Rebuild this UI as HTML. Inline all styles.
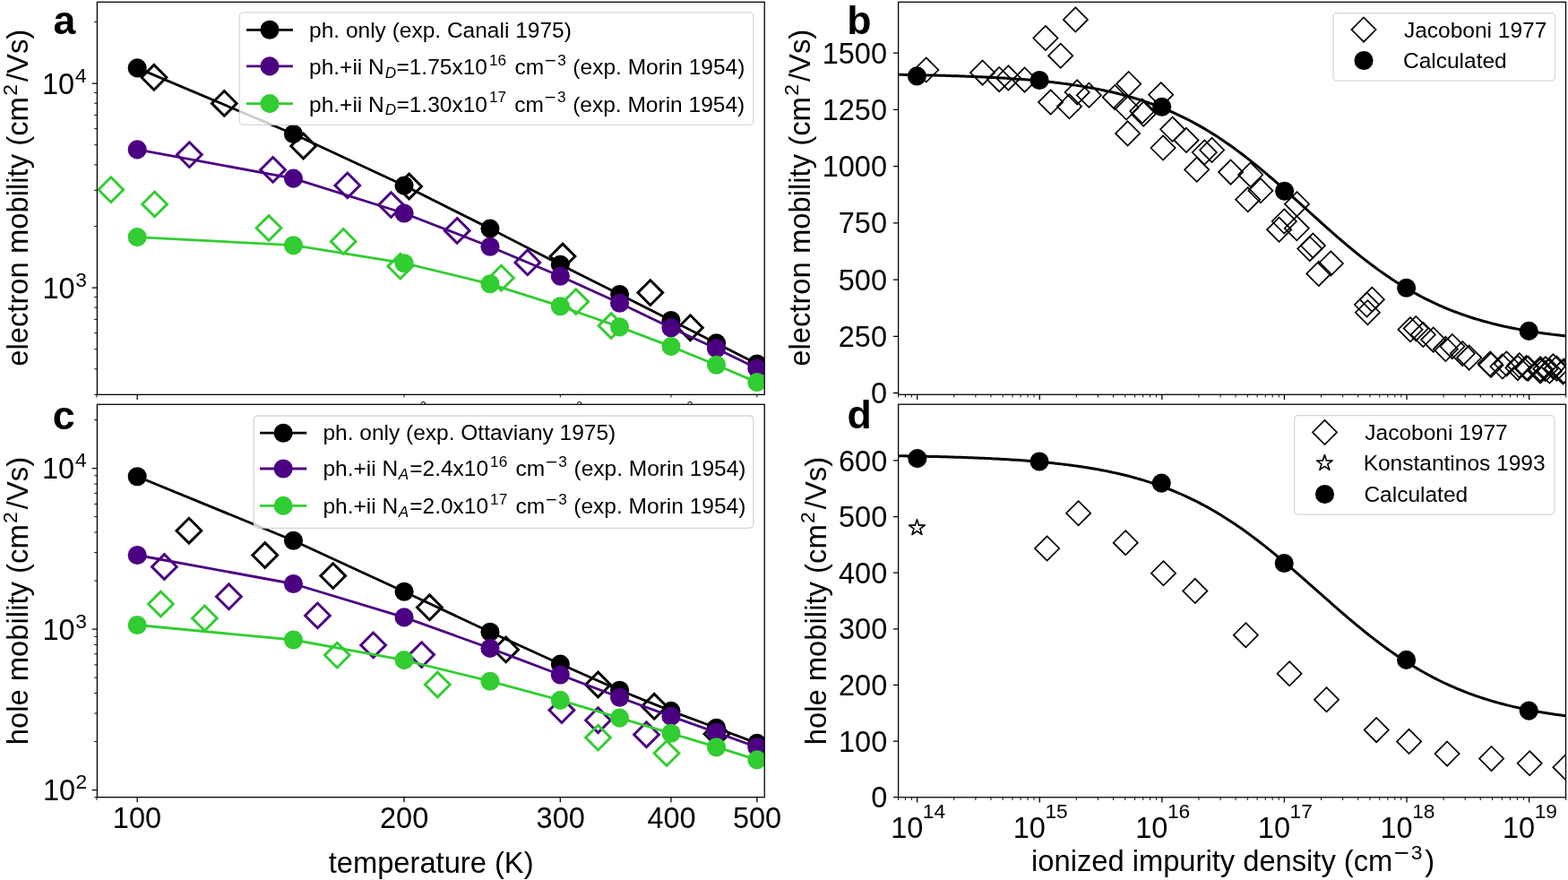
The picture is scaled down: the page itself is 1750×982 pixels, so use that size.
<!DOCTYPE html><html><head><meta charset="utf-8"><title>Carrier mobility figure</title><style>html,body{margin:0;padding:0;background:#fff;overflow:hidden}svg{display:block}text{font-family:"Liberation Sans",Arial,sans-serif;fill:#000}</style></head><body>
<svg width="1750" height="982" viewBox="0 0 1750 982">
<rect width="1750" height="982" fill="#fff"/>
<defs>
<clipPath id="ca"><rect x="108.4" y="2.3" width="744.85" height="438.05"/></clipPath>
<clipPath id="cb"><rect x="1002.6" y="2.3" width="744.95" height="438"/></clipPath>
<clipPath id="cc"><rect x="108.4" y="451.3" width="744.85" height="438.35"/></clipPath>
<clipPath id="cd"><rect x="1002.6" y="451.2" width="744.95" height="438.55"/></clipPath>
</defs>
<rect x="108.4" y="2.3" width="744.85" height="438.05" fill="#fff"/>
<g clip-path="url(#ca)">
<path d="M171.9 72.4L185.8 86.3L171.9 100.2L158 86.3Z" fill="none" stroke="#000000" stroke-width="2.9" stroke-linejoin="miter"/>
<path d="M250.3 101.5L264.2 115.4L250.3 129.3L236.4 115.4Z" fill="none" stroke="#000000" stroke-width="2.9" stroke-linejoin="miter"/>
<path d="M338.6 149.1L352.5 163L338.6 176.9L324.7 163Z" fill="none" stroke="#000000" stroke-width="2.9" stroke-linejoin="miter"/>
<path d="M456.6 194.1L470.5 208L456.6 221.9L442.7 208Z" fill="none" stroke="#000000" stroke-width="2.9" stroke-linejoin="miter"/>
<path d="M628 272.1L641.9 286L628 299.9L614.1 286Z" fill="none" stroke="#000000" stroke-width="2.9" stroke-linejoin="miter"/>
<path d="M725.8 312.7L739.7 326.6L725.8 340.5L711.9 326.6Z" fill="none" stroke="#000000" stroke-width="2.9" stroke-linejoin="miter"/>
<path d="M770.4 351.8L784.3 365.7L770.4 379.6L756.5 365.7Z" fill="none" stroke="#000000" stroke-width="2.9" stroke-linejoin="miter"/>
<path d="M153.2 75.9L327.44 149.5L451.07 207.1L546.96 255.1L625.31 295.2L691.56 328.5L748.94 357.5L799.55 382.9L844.83 406" fill="none" stroke="#000000" stroke-width="2.8" stroke-linejoin="round" stroke-linecap="butt"/>
<circle cx="153.2" cy="75.9" r="10.55" fill="#000000"/>
<circle cx="327.44" cy="149.5" r="10.55" fill="#000000"/>
<circle cx="451.07" cy="207.1" r="10.55" fill="#000000"/>
<circle cx="546.96" cy="255.1" r="10.55" fill="#000000"/>
<circle cx="625.31" cy="295.2" r="10.55" fill="#000000"/>
<circle cx="691.56" cy="328.5" r="10.55" fill="#000000"/>
<circle cx="748.94" cy="357.5" r="10.55" fill="#000000"/>
<circle cx="799.55" cy="382.9" r="10.55" fill="#000000"/>
<circle cx="844.83" cy="406" r="10.55" fill="#000000"/>
<path d="M211.4 158.7L225.3 172.6L211.4 186.5L197.5 172.6Z" fill="none" stroke="#4b0082" stroke-width="2.9" stroke-linejoin="miter"/>
<path d="M304.6 175.5L318.5 189.4L304.6 203.3L290.7 189.4Z" fill="none" stroke="#4b0082" stroke-width="2.9" stroke-linejoin="miter"/>
<path d="M387.8 193L401.7 206.9L387.8 220.8L373.9 206.9Z" fill="none" stroke="#4b0082" stroke-width="2.9" stroke-linejoin="miter"/>
<path d="M436.5 214.7L450.4 228.6L436.5 242.5L422.6 228.6Z" fill="none" stroke="#4b0082" stroke-width="2.9" stroke-linejoin="miter"/>
<path d="M510.2 243.5L524.1 257.4L510.2 271.3L496.3 257.4Z" fill="none" stroke="#4b0082" stroke-width="2.9" stroke-linejoin="miter"/>
<path d="M588.8 279L602.7 292.9L588.8 306.8L574.9 292.9Z" fill="none" stroke="#4b0082" stroke-width="2.9" stroke-linejoin="miter"/>
<path d="M153.2 166.9L327.44 199.1L451.07 238L546.96 275.2L625.31 308.3L691.56 338.3L748.94 365.7L799.55 388.9L844.83 411.1" fill="none" stroke="#4b0082" stroke-width="2.8" stroke-linejoin="round" stroke-linecap="butt"/>
<circle cx="153.2" cy="166.9" r="10.55" fill="#4b0082"/>
<circle cx="327.44" cy="199.1" r="10.55" fill="#4b0082"/>
<circle cx="451.07" cy="238" r="10.55" fill="#4b0082"/>
<circle cx="546.96" cy="275.2" r="10.55" fill="#4b0082"/>
<circle cx="625.31" cy="308.3" r="10.55" fill="#4b0082"/>
<circle cx="691.56" cy="338.3" r="10.55" fill="#4b0082"/>
<circle cx="748.94" cy="365.7" r="10.55" fill="#4b0082"/>
<circle cx="799.55" cy="388.9" r="10.55" fill="#4b0082"/>
<circle cx="844.83" cy="411.1" r="10.55" fill="#4b0082"/>
<path d="M123.8 197.8L137.7 211.7L123.8 225.6L109.9 211.7Z" fill="none" stroke="#32cd32" stroke-width="2.9" stroke-linejoin="miter"/>
<path d="M172.6 214L186.5 227.9L172.6 241.8L158.7 227.9Z" fill="none" stroke="#32cd32" stroke-width="2.9" stroke-linejoin="miter"/>
<path d="M300 240.6L313.9 254.5L300 268.4L286.1 254.5Z" fill="none" stroke="#32cd32" stroke-width="2.9" stroke-linejoin="miter"/>
<path d="M383.2 255.5L397.1 269.4L383.2 283.3L369.3 269.4Z" fill="none" stroke="#32cd32" stroke-width="2.9" stroke-linejoin="miter"/>
<path d="M446.8 283.2L460.7 297.1L446.8 311L432.9 297.1Z" fill="none" stroke="#32cd32" stroke-width="2.9" stroke-linejoin="miter"/>
<path d="M559.4 296.3L573.3 310.2L559.4 324.1L545.5 310.2Z" fill="none" stroke="#32cd32" stroke-width="2.9" stroke-linejoin="miter"/>
<path d="M642.8 322.7L656.7 336.6L642.8 350.5L628.9 336.6Z" fill="none" stroke="#32cd32" stroke-width="2.9" stroke-linejoin="miter"/>
<path d="M682.1 349.6L696 363.5L682.1 377.4L668.2 363.5Z" fill="none" stroke="#32cd32" stroke-width="2.9" stroke-linejoin="miter"/>
<path d="M153.2 264.6L327.44 273.7L451.07 293.7L546.96 316.8L625.31 341.7L691.56 364.9L748.94 386.6L799.55 407.2L844.83 426.6" fill="none" stroke="#32cd32" stroke-width="2.8" stroke-linejoin="round" stroke-linecap="butt"/>
<circle cx="153.2" cy="264.6" r="10.55" fill="#32cd32"/>
<circle cx="327.44" cy="273.7" r="10.55" fill="#32cd32"/>
<circle cx="451.07" cy="293.7" r="10.55" fill="#32cd32"/>
<circle cx="546.96" cy="316.8" r="10.55" fill="#32cd32"/>
<circle cx="625.31" cy="341.7" r="10.55" fill="#32cd32"/>
<circle cx="691.56" cy="364.9" r="10.55" fill="#32cd32"/>
<circle cx="748.94" cy="386.6" r="10.55" fill="#32cd32"/>
<circle cx="799.55" cy="407.2" r="10.55" fill="#32cd32"/>
<circle cx="844.83" cy="426.6" r="10.55" fill="#32cd32"/>
</g>
<rect x="1002.6" y="2.3" width="744.95" height="438" fill="#fff"/>
<g clip-path="url(#cb)">
<path d="M1033.7 64.4L1047.3 78L1033.7 91.6L1020.1 78Z" fill="none" stroke="#000000" stroke-width="1.7" stroke-linejoin="miter"/>
<path d="M1096.6 67.5L1110.2 81.1L1096.6 94.7L1083 81.1Z" fill="none" stroke="#000000" stroke-width="1.7" stroke-linejoin="miter"/>
<path d="M1115.2 75L1128.8 88.6L1115.2 102.2L1101.6 88.6Z" fill="none" stroke="#000000" stroke-width="1.7" stroke-linejoin="miter"/>
<path d="M1125.4 73.3L1139 86.9L1125.4 100.5L1111.8 86.9Z" fill="none" stroke="#000000" stroke-width="1.7" stroke-linejoin="miter"/>
<path d="M1143.6 75.5L1157.2 89.1L1143.6 102.7L1130 89.1Z" fill="none" stroke="#000000" stroke-width="1.7" stroke-linejoin="miter"/>
<path d="M1166.9 28.9L1180.5 42.5L1166.9 56.1L1153.3 42.5Z" fill="none" stroke="#000000" stroke-width="1.7" stroke-linejoin="miter"/>
<path d="M1200.4 8.3L1214 21.9L1200.4 35.5L1186.8 21.9Z" fill="none" stroke="#000000" stroke-width="1.7" stroke-linejoin="miter"/>
<path d="M1183.7 48.6L1197.3 62.2L1183.7 75.8L1170.1 62.2Z" fill="none" stroke="#000000" stroke-width="1.7" stroke-linejoin="miter"/>
<path d="M1172.6 100.4L1186.2 114L1172.6 127.6L1159 114Z" fill="none" stroke="#000000" stroke-width="1.7" stroke-linejoin="miter"/>
<path d="M1193.5 105.2L1207.1 118.8L1193.5 132.4L1179.9 118.8Z" fill="none" stroke="#000000" stroke-width="1.7" stroke-linejoin="miter"/>
<path d="M1202.2 89.3L1215.8 102.9L1202.2 116.5L1188.6 102.9Z" fill="none" stroke="#000000" stroke-width="1.7" stroke-linejoin="miter"/>
<path d="M1215.4 92.7L1229 106.3L1215.4 119.9L1201.8 106.3Z" fill="none" stroke="#000000" stroke-width="1.7" stroke-linejoin="miter"/>
<path d="M1259.7 80L1273.3 93.6L1259.7 107.2L1246.1 93.6Z" fill="none" stroke="#000000" stroke-width="1.7" stroke-linejoin="miter"/>
<path d="M1244.3 95L1257.9 108.6L1244.3 122.2L1230.7 108.6Z" fill="none" stroke="#000000" stroke-width="1.7" stroke-linejoin="miter"/>
<path d="M1257.1 106.4L1270.7 120L1257.1 133.6L1243.5 120Z" fill="none" stroke="#000000" stroke-width="1.7" stroke-linejoin="miter"/>
<path d="M1274.8 110.4L1288.4 124L1274.8 137.6L1261.2 124Z" fill="none" stroke="#000000" stroke-width="1.7" stroke-linejoin="miter"/>
<path d="M1276.2 113.6L1289.8 127.2L1276.2 140.8L1262.6 127.2Z" fill="none" stroke="#000000" stroke-width="1.7" stroke-linejoin="miter"/>
<path d="M1258.6 135.3L1272.2 148.9L1258.6 162.5L1245 148.9Z" fill="none" stroke="#000000" stroke-width="1.7" stroke-linejoin="miter"/>
<path d="M1295.7 92.1L1309.3 105.7L1295.7 119.3L1282.1 105.7Z" fill="none" stroke="#000000" stroke-width="1.7" stroke-linejoin="miter"/>
<path d="M1308.6 130.7L1322.2 144.3L1308.6 157.9L1295 144.3Z" fill="none" stroke="#000000" stroke-width="1.7" stroke-linejoin="miter"/>
<path d="M1324 142.8L1337.6 156.4L1324 170L1310.4 156.4Z" fill="none" stroke="#000000" stroke-width="1.7" stroke-linejoin="miter"/>
<path d="M1298.1 151.4L1311.7 165L1298.1 178.6L1284.5 165Z" fill="none" stroke="#000000" stroke-width="1.7" stroke-linejoin="miter"/>
<path d="M1344.3 156.4L1357.9 170L1344.3 183.6L1330.7 170Z" fill="none" stroke="#000000" stroke-width="1.7" stroke-linejoin="miter"/>
<path d="M1352.6 153.8L1366.2 167.4L1352.6 181L1339 167.4Z" fill="none" stroke="#000000" stroke-width="1.7" stroke-linejoin="miter"/>
<path d="M1335.7 175.7L1349.3 189.3L1335.7 202.9L1322.1 189.3Z" fill="none" stroke="#000000" stroke-width="1.7" stroke-linejoin="miter"/>
<path d="M1373.6 178.5L1387.2 192.1L1373.6 205.7L1360 192.1Z" fill="none" stroke="#000000" stroke-width="1.7" stroke-linejoin="miter"/>
<path d="M1395.7 181.4L1409.3 195L1395.7 208.6L1382.1 195Z" fill="none" stroke="#000000" stroke-width="1.7" stroke-linejoin="miter"/>
<path d="M1406.9 199.2L1420.5 212.8L1406.9 226.4L1393.3 212.8Z" fill="none" stroke="#000000" stroke-width="1.7" stroke-linejoin="miter"/>
<path d="M1392.7 209.1L1406.3 222.7L1392.7 236.3L1379.1 222.7Z" fill="none" stroke="#000000" stroke-width="1.7" stroke-linejoin="miter"/>
<path d="M1447.5 214.1L1461.1 227.7L1447.5 241.3L1433.9 227.7Z" fill="none" stroke="#000000" stroke-width="1.7" stroke-linejoin="miter"/>
<path d="M1433.3 233.4L1446.9 247L1433.3 260.6L1419.7 247Z" fill="none" stroke="#000000" stroke-width="1.7" stroke-linejoin="miter"/>
<path d="M1427.6 242.6L1441.2 256.2L1427.6 269.8L1414 256.2Z" fill="none" stroke="#000000" stroke-width="1.7" stroke-linejoin="miter"/>
<path d="M1447.3 241.2L1460.9 254.8L1447.3 268.4L1433.7 254.8Z" fill="none" stroke="#000000" stroke-width="1.7" stroke-linejoin="miter"/>
<path d="M1461.8 264L1475.4 277.6L1461.8 291.2L1448.2 277.6Z" fill="none" stroke="#000000" stroke-width="1.7" stroke-linejoin="miter"/>
<path d="M1465.4 260.5L1479 274.1L1465.4 287.7L1451.8 274.1Z" fill="none" stroke="#000000" stroke-width="1.7" stroke-linejoin="miter"/>
<path d="M1485.3 280.4L1498.9 294L1485.3 307.6L1471.7 294Z" fill="none" stroke="#000000" stroke-width="1.7" stroke-linejoin="miter"/>
<path d="M1471.8 291.8L1485.4 305.4L1471.8 319L1458.2 305.4Z" fill="none" stroke="#000000" stroke-width="1.7" stroke-linejoin="miter"/>
<path d="M1531.3 320.6L1544.9 334.2L1531.3 347.8L1517.7 334.2Z" fill="none" stroke="#000000" stroke-width="1.7" stroke-linejoin="miter"/>
<path d="M1525.5 326.4L1539.1 340L1525.5 353.6L1511.9 340Z" fill="none" stroke="#000000" stroke-width="1.7" stroke-linejoin="miter"/>
<path d="M1526.4 335.1L1540 348.7L1526.4 362.3L1512.8 348.7Z" fill="none" stroke="#000000" stroke-width="1.7" stroke-linejoin="miter"/>
<path d="M1574 354.1L1587.6 367.7L1574 381.3L1560.4 367.7Z" fill="none" stroke="#000000" stroke-width="1.7" stroke-linejoin="miter"/>
<path d="M1580.3 353L1593.9 366.6L1580.3 380.2L1566.7 366.6Z" fill="none" stroke="#000000" stroke-width="1.7" stroke-linejoin="miter"/>
<path d="M1588.3 359.8L1601.9 373.4L1588.3 387L1574.7 373.4Z" fill="none" stroke="#000000" stroke-width="1.7" stroke-linejoin="miter"/>
<path d="M1599.7 365.5L1613.3 379.1L1599.7 392.7L1586.1 379.1Z" fill="none" stroke="#000000" stroke-width="1.7" stroke-linejoin="miter"/>
<path d="M1613.4 375.8L1627 389.4L1613.4 403L1599.8 389.4Z" fill="none" stroke="#000000" stroke-width="1.7" stroke-linejoin="miter"/>
<path d="M1620.9 373L1634.5 386.6L1620.9 400.2L1607.3 386.6Z" fill="none" stroke="#000000" stroke-width="1.7" stroke-linejoin="miter"/>
<path d="M1632.3 381L1645.9 394.6L1632.3 408.2L1618.7 394.6Z" fill="none" stroke="#000000" stroke-width="1.7" stroke-linejoin="miter"/>
<path d="M1639.7 385.5L1653.3 399.1L1639.7 412.7L1626.1 399.1Z" fill="none" stroke="#000000" stroke-width="1.7" stroke-linejoin="miter"/>
<path d="M1663.1 392.4L1676.7 406L1663.1 419.6L1649.5 406Z" fill="none" stroke="#000000" stroke-width="1.7" stroke-linejoin="miter"/>
<path d="M1664 393.9L1677.6 407.5L1664 421.1L1650.4 407.5Z" fill="none" stroke="#000000" stroke-width="1.7" stroke-linejoin="miter"/>
<path d="M1676.9 395.3L1690.5 408.9L1676.9 422.5L1663.3 408.9Z" fill="none" stroke="#000000" stroke-width="1.7" stroke-linejoin="miter"/>
<path d="M1681.4 392.4L1695 406L1681.4 419.6L1667.8 406Z" fill="none" stroke="#000000" stroke-width="1.7" stroke-linejoin="miter"/>
<path d="M1694 397L1707.6 410.6L1694 424.2L1680.4 410.6Z" fill="none" stroke="#000000" stroke-width="1.7" stroke-linejoin="miter"/>
<path d="M1695.7 394.1L1709.3 407.7L1695.7 421.3L1682.1 407.7Z" fill="none" stroke="#000000" stroke-width="1.7" stroke-linejoin="miter"/>
<path d="M1703.7 397L1717.3 410.6L1703.7 424.2L1690.1 410.6Z" fill="none" stroke="#000000" stroke-width="1.7" stroke-linejoin="miter"/>
<path d="M1705.4 397.5L1719 411.1L1705.4 424.7L1691.8 411.1Z" fill="none" stroke="#000000" stroke-width="1.7" stroke-linejoin="miter"/>
<path d="M1719.1 398.1L1732.7 411.7L1719.1 425.3L1705.5 411.7Z" fill="none" stroke="#000000" stroke-width="1.7" stroke-linejoin="miter"/>
<path d="M1719.1 400.4L1732.7 414L1719.1 427.6L1705.5 414Z" fill="none" stroke="#000000" stroke-width="1.7" stroke-linejoin="miter"/>
<path d="M1724.9 398.1L1738.5 411.7L1724.9 425.3L1711.3 411.7Z" fill="none" stroke="#000000" stroke-width="1.7" stroke-linejoin="miter"/>
<path d="M1729.4 400.4L1743 414L1729.4 427.6L1715.8 414Z" fill="none" stroke="#000000" stroke-width="1.7" stroke-linejoin="miter"/>
<path d="M1733.4 395.3L1747 408.9L1733.4 422.5L1719.8 408.9Z" fill="none" stroke="#000000" stroke-width="1.7" stroke-linejoin="miter"/>
<path d="M1737.4 397.5L1751 411.1L1737.4 424.7L1723.8 411.1Z" fill="none" stroke="#000000" stroke-width="1.7" stroke-linejoin="miter"/>
<path d="M1744.3 401.4L1757.9 415L1744.3 428.6L1730.7 415Z" fill="none" stroke="#000000" stroke-width="1.7" stroke-linejoin="miter"/>
<path d="M1745.4 400.4L1759 414L1745.4 427.6L1731.8 414Z" fill="none" stroke="#000000" stroke-width="1.7" stroke-linejoin="miter"/>
<path d="M1000.6 83.26L1003.72 83.31L1006.84 83.36L1009.96 83.41L1013.08 83.46L1016.2 83.51L1019.32 83.57L1022.44 83.63L1025.57 83.69L1028.69 83.75L1031.81 83.82L1034.93 83.89L1038.05 83.96L1041.17 84.03L1044.29 84.11L1047.41 84.19L1050.53 84.27L1053.65 84.36L1056.77 84.44L1059.89 84.54L1063.01 84.63L1066.13 84.73L1069.25 84.83L1072.37 84.94L1075.5 85.05L1078.62 85.16L1081.74 85.28L1084.86 85.41L1087.98 85.53L1091.1 85.67L1094.22 85.8L1097.34 85.95L1100.46 86.1L1103.58 86.25L1106.7 86.41L1109.82 86.57L1112.94 86.74L1116.06 86.92L1119.18 87.11L1122.3 87.3L1125.42 87.5L1128.55 87.7L1131.67 87.91L1134.79 88.13L1137.91 88.36L1141.03 88.6L1144.15 88.85L1147.27 89.1L1150.39 89.36L1153.51 89.64L1156.63 89.92L1159.75 90.22L1162.87 90.52L1165.99 90.84L1169.11 91.16L1172.23 91.5L1175.36 91.85L1178.48 92.21L1181.6 92.59L1184.72 92.98L1187.84 93.38L1190.96 93.8L1194.08 94.23L1197.2 94.68L1200.32 95.14L1203.44 95.62L1206.56 96.12L1209.68 96.63L1212.8 97.16L1215.92 97.71L1219.04 98.28L1222.16 98.87L1225.29 99.47L1228.41 100.1L1231.53 100.75L1234.65 101.42L1237.77 102.11L1240.89 102.82L1244.01 103.56L1247.13 104.33L1250.25 105.11L1253.37 105.93L1256.49 106.77L1259.61 107.63L1262.73 108.52L1265.85 109.45L1268.97 110.4L1272.09 111.38L1275.21 112.38L1278.34 113.42L1281.46 114.5L1284.58 115.6L1287.7 116.74L1290.82 117.91L1293.94 119.11L1297.06 120.35L1300.18 121.62L1303.3 122.93L1306.42 124.27L1309.54 125.66L1312.66 127.07L1315.78 128.53L1318.9 130.03L1322.02 131.56L1325.14 133.13L1328.27 134.75L1331.39 136.4L1334.51 138.09L1337.63 139.83L1340.75 141.6L1343.87 143.42L1346.99 145.27L1350.11 147.17L1353.23 149.1L1356.35 151.08L1359.47 153.1L1362.59 155.16L1365.71 157.26L1368.83 159.4L1371.95 161.58L1375.08 163.79L1378.2 166.05L1381.32 168.34L1384.44 170.68L1387.56 173.04L1390.68 175.45L1393.8 177.88L1396.92 180.36L1400.04 182.86L1403.16 185.39L1406.28 187.96L1409.4 190.55L1412.52 193.17L1415.64 195.82L1418.76 198.49L1421.88 201.19L1425.01 203.91L1428.13 206.64L1431.25 209.4L1434.37 212.17L1437.49 214.95L1440.61 217.75L1443.73 220.55L1446.85 223.37L1449.97 226.19L1453.09 229.02L1456.21 231.85L1459.33 234.68L1462.45 237.51L1465.57 240.34L1468.69 243.16L1471.81 245.98L1474.93 248.78L1478.06 251.57L1481.18 254.36L1484.3 257.12L1487.42 259.87L1490.54 262.6L1493.66 265.32L1496.78 268.01L1499.9 270.67L1503.02 273.31L1506.14 275.93L1509.26 278.52L1512.38 281.07L1515.5 283.6L1518.62 286.1L1521.74 288.56L1524.87 290.99L1527.99 293.39L1531.11 295.74L1534.23 298.07L1537.35 300.35L1540.47 302.6L1543.59 304.81L1546.71 306.98L1549.83 309.11L1552.95 311.2L1556.07 313.25L1559.19 315.26L1562.31 317.22L1565.43 319.15L1568.55 321.04L1571.67 322.88L1574.8 324.69L1577.92 326.45L1581.04 328.18L1584.16 329.86L1587.28 331.5L1590.4 333.11L1593.52 334.67L1596.64 336.2L1599.76 337.68L1602.88 339.13L1606 340.54L1609.12 341.92L1612.24 343.25L1615.36 344.55L1618.48 345.82L1621.6 347.05L1624.72 348.24L1627.85 349.4L1630.97 350.53L1634.09 351.63L1637.21 352.69L1640.33 353.73L1643.45 354.73L1646.57 355.7L1649.69 356.64L1652.81 357.56L1655.93 358.44L1659.05 359.3L1662.17 360.14L1665.29 360.94L1668.41 361.73L1671.53 362.48L1674.65 363.22L1677.78 363.93L1680.9 364.61L1684.02 365.28L1687.14 365.92L1690.26 366.54L1693.38 367.14L1696.5 367.73L1699.62 368.29L1702.74 368.83L1705.86 369.36L1708.98 369.87L1712.1 370.36L1715.22 370.84L1718.34 371.3L1721.46 371.74L1724.59 372.17L1727.71 372.58L1730.83 372.98L1733.95 373.37L1737.07 373.74L1740.19 374.1L1743.31 374.45L1746.43 374.79L1749.55 375.11" fill="none" stroke="#000000" stroke-width="3.0" stroke-linejoin="round" stroke-linecap="butt"/>
<circle cx="1023.4" cy="84.9" r="10.55" fill="#000000"/>
<circle cx="1160.1" cy="89.5" r="10.55" fill="#000000"/>
<circle cx="1296.7" cy="119.3" r="10.55" fill="#000000"/>
<circle cx="1433.6" cy="213.2" r="10.55" fill="#000000"/>
<circle cx="1569.6" cy="321.2" r="10.55" fill="#000000"/>
<circle cx="1706.3" cy="369.4" r="10.55" fill="#000000"/>
</g>
<path d="M153.2 440.35v5.7" stroke="#000" stroke-width="1.28" fill="none"/>
<path d="M107.92 440.35v3.2M451.07 440.35v3.2M625.31 440.35v3.2M748.94 440.35v3.2M844.83 440.35v3.2" stroke="#000" stroke-width="0.96" fill="none"/>
<path d="M108.4 321.1h-5.7M108.4 93.1h-5.7" stroke="#000" stroke-width="1.28" fill="none"/>
<path d="M108.4 440.32h-3.2M108.4 411.83h-3.2M108.4 389.73h-3.2M108.4 371.68h-3.2M108.4 356.42h-3.2M108.4 343.2h-3.2M108.4 331.53h-3.2M108.4 252.47h-3.2M108.4 212.32h-3.2M108.4 183.83h-3.2M108.4 161.73h-3.2M108.4 143.68h-3.2M108.4 128.42h-3.2M108.4 115.2h-3.2M108.4 103.53h-3.2M108.4 24.47h-3.2" stroke="#000" stroke-width="0.96" fill="none"/>
<text x="428.28" y="465.50" font-size="18.0">2×10</text>
<text x="468.74" y="456.90" font-size="12.6">2</text>
<text x="602.52" y="465.50" font-size="18.0">3×10</text>
<text x="642.98" y="456.90" font-size="12.6">2</text>
<text x="726.15" y="465.50" font-size="18.0">4×10</text>
<text x="766.61" y="456.90" font-size="12.6">2</text>
<text x="46.92" y="104.80" font-size="32.5">10</text><text x="84.04" y="91.60" font-size="22.75">4</text>
<text x="47.38" y="332.80" font-size="32.5">10</text><text x="84.27" y="319.60" font-size="22.75">3</text>
<g transform="rotate(-90)">
<text x="-408.86" y="31.40" font-size="32.8">electron mobility (cm</text>
<text x="-106.83" y="18.50" font-size="22.96">2</text>
<text x="-91.02" y="31.40" font-size="32.8">/Vs)</text>
</g>
<text x="59.41" y="38.00" font-size="44.7" font-weight="bold">a</text>
<path d="M1023.7 440.3v5.7M1160.28 440.3v5.7M1296.86 440.3v5.7M1433.44 440.3v5.7M1570.02 440.3v5.7M1706.6 440.3v5.7" stroke="#000" stroke-width="1.28" fill="none"/>
<path d="M1002.54 440.3v3.2M1010.46 440.3v3.2M1017.45 440.3v3.2M1064.81 440.3v3.2M1088.87 440.3v3.2M1105.93 440.3v3.2M1119.17 440.3v3.2M1129.98 440.3v3.2M1139.12 440.3v3.2M1147.04 440.3v3.2M1154.03 440.3v3.2M1201.39 440.3v3.2M1225.45 440.3v3.2M1242.51 440.3v3.2M1255.75 440.3v3.2M1266.56 440.3v3.2M1275.7 440.3v3.2M1283.62 440.3v3.2M1290.61 440.3v3.2M1337.97 440.3v3.2M1362.03 440.3v3.2M1379.09 440.3v3.2M1392.33 440.3v3.2M1403.14 440.3v3.2M1412.28 440.3v3.2M1420.2 440.3v3.2M1427.19 440.3v3.2M1474.55 440.3v3.2M1498.61 440.3v3.2M1515.67 440.3v3.2M1528.91 440.3v3.2M1539.72 440.3v3.2M1548.86 440.3v3.2M1556.78 440.3v3.2M1563.77 440.3v3.2M1611.13 440.3v3.2M1635.19 440.3v3.2M1652.25 440.3v3.2M1665.49 440.3v3.2M1676.3 440.3v3.2M1685.44 440.3v3.2M1693.36 440.3v3.2M1700.35 440.3v3.2M1747.71 440.3v3.2" stroke="#000" stroke-width="0.96" fill="none"/>
<path d="M1002.6 438.5h-5.7M1002.6 375.27h-5.7M1002.6 312.04h-5.7M1002.6 248.8h-5.7M1002.6 185.57h-5.7M1002.6 122.34h-5.7M1002.6 59.11h-5.7" stroke="#000" stroke-width="1.28" fill="none"/>
<text x="971.90" y="450.10" font-size="32.5">0</text>
<text x="935.75" y="386.87" font-size="32.5">250</text>
<text x="935.75" y="323.64" font-size="32.5">500</text>
<text x="935.75" y="260.40" font-size="32.5">750</text>
<text x="917.68" y="197.17" font-size="32.5">1000</text>
<text x="917.68" y="133.94" font-size="32.5">1250</text>
<text x="917.68" y="70.71" font-size="32.5">1500</text>
<g transform="rotate(-90)">
<text x="-408.86" y="903.50" font-size="32.8">electron mobility (cm</text>
<text x="-106.83" y="890.60" font-size="22.96">2</text>
<text x="-91.02" y="903.50" font-size="32.8">/Vs)</text>
</g>
<text x="945.22" y="37.60" font-size="44.7" font-weight="bold">b</text>
<rect x="108.4" y="451.3" width="744.85" height="438.35" fill="#fff"/>
<g clip-path="url(#cc)">
<path d="M210.9 578.3L224.8 592.2L210.9 606.1L197 592.2Z" fill="none" stroke="#000000" stroke-width="2.9" stroke-linejoin="miter"/>
<path d="M295.7 605.6L309.6 619.5L295.7 633.4L281.8 619.5Z" fill="none" stroke="#000000" stroke-width="2.9" stroke-linejoin="miter"/>
<path d="M371.7 628.7L385.6 642.6L371.7 656.5L357.8 642.6Z" fill="none" stroke="#000000" stroke-width="2.9" stroke-linejoin="miter"/>
<path d="M479.4 663.9L493.3 677.8L479.4 691.7L465.5 677.8Z" fill="none" stroke="#000000" stroke-width="2.9" stroke-linejoin="miter"/>
<path d="M564.6 711L578.5 724.9L564.6 738.8L550.7 724.9Z" fill="none" stroke="#000000" stroke-width="2.9" stroke-linejoin="miter"/>
<path d="M667.5 750.1L681.4 764L667.5 777.9L653.6 764Z" fill="none" stroke="#000000" stroke-width="2.9" stroke-linejoin="miter"/>
<path d="M730.2 774.4L744.1 788.3L730.2 802.2L716.3 788.3Z" fill="none" stroke="#000000" stroke-width="2.9" stroke-linejoin="miter"/>
<path d="M800 805.1L813.9 819L800 832.9L786.1 819Z" fill="none" stroke="#000000" stroke-width="2.9" stroke-linejoin="miter"/>
<path d="M153.2 531.7L327.44 603.2L451.07 660.3L546.96 705.2L625.31 741.1L691.56 770.3L748.94 793.4L799.55 812.3L844.83 829.4" fill="none" stroke="#000000" stroke-width="2.8" stroke-linejoin="round" stroke-linecap="butt"/>
<circle cx="153.2" cy="531.7" r="10.55" fill="#000000"/>
<circle cx="327.44" cy="603.2" r="10.55" fill="#000000"/>
<circle cx="451.07" cy="660.3" r="10.55" fill="#000000"/>
<circle cx="546.96" cy="705.2" r="10.55" fill="#000000"/>
<circle cx="625.31" cy="741.1" r="10.55" fill="#000000"/>
<circle cx="691.56" cy="770.3" r="10.55" fill="#000000"/>
<circle cx="748.94" cy="793.4" r="10.55" fill="#000000"/>
<circle cx="799.55" cy="812.3" r="10.55" fill="#000000"/>
<circle cx="844.83" cy="829.4" r="10.55" fill="#000000"/>
<path d="M183.4 618.6L197.3 632.5L183.4 646.4L169.5 632.5Z" fill="none" stroke="#4b0082" stroke-width="2.9" stroke-linejoin="miter"/>
<path d="M255.4 651.9L269.3 665.8L255.4 679.7L241.5 665.8Z" fill="none" stroke="#4b0082" stroke-width="2.9" stroke-linejoin="miter"/>
<path d="M354.4 673L368.3 686.9L354.4 700.8L340.5 686.9Z" fill="none" stroke="#4b0082" stroke-width="2.9" stroke-linejoin="miter"/>
<path d="M416.6 706L430.5 719.9L416.6 733.8L402.7 719.9Z" fill="none" stroke="#4b0082" stroke-width="2.9" stroke-linejoin="miter"/>
<path d="M470.6 716.7L484.5 730.6L470.6 744.5L456.7 730.6Z" fill="none" stroke="#4b0082" stroke-width="2.9" stroke-linejoin="miter"/>
<path d="M626.9 778.7L640.8 792.6L626.9 806.5L613 792.6Z" fill="none" stroke="#4b0082" stroke-width="2.9" stroke-linejoin="miter"/>
<path d="M667.5 789.8L681.4 803.7L667.5 817.6L653.6 803.7Z" fill="none" stroke="#4b0082" stroke-width="2.9" stroke-linejoin="miter"/>
<path d="M721.5 805.8L735.4 819.7L721.5 833.6L707.6 819.7Z" fill="none" stroke="#4b0082" stroke-width="2.9" stroke-linejoin="miter"/>
<path d="M153.2 619.5L327.44 651.5L451.07 688.9L546.96 723.4L625.31 753L691.56 778.3L748.94 799.4L799.55 817.4L844.83 833.7" fill="none" stroke="#4b0082" stroke-width="2.8" stroke-linejoin="round" stroke-linecap="butt"/>
<circle cx="153.2" cy="619.5" r="10.55" fill="#4b0082"/>
<circle cx="327.44" cy="651.5" r="10.55" fill="#4b0082"/>
<circle cx="451.07" cy="688.9" r="10.55" fill="#4b0082"/>
<circle cx="546.96" cy="723.4" r="10.55" fill="#4b0082"/>
<circle cx="625.31" cy="753" r="10.55" fill="#4b0082"/>
<circle cx="691.56" cy="778.3" r="10.55" fill="#4b0082"/>
<circle cx="748.94" cy="799.4" r="10.55" fill="#4b0082"/>
<circle cx="799.55" cy="817.4" r="10.55" fill="#4b0082"/>
<circle cx="844.83" cy="833.7" r="10.55" fill="#4b0082"/>
<path d="M179.5 660.1L193.4 674L179.5 687.9L165.6 674Z" fill="none" stroke="#32cd32" stroke-width="2.9" stroke-linejoin="miter"/>
<path d="M228.4 676L242.3 689.9L228.4 703.8L214.5 689.9Z" fill="none" stroke="#32cd32" stroke-width="2.9" stroke-linejoin="miter"/>
<path d="M376.3 717.2L390.2 731.1L376.3 745L362.4 731.1Z" fill="none" stroke="#32cd32" stroke-width="2.9" stroke-linejoin="miter"/>
<path d="M488.3 750.1L502.2 764L488.3 777.9L474.4 764Z" fill="none" stroke="#32cd32" stroke-width="2.9" stroke-linejoin="miter"/>
<path d="M667.5 809.2L681.4 823.1L667.5 837L653.6 823.1Z" fill="none" stroke="#32cd32" stroke-width="2.9" stroke-linejoin="miter"/>
<path d="M744 826.7L757.9 840.6L744 854.5L730.1 840.6Z" fill="none" stroke="#32cd32" stroke-width="2.9" stroke-linejoin="miter"/>
<path d="M153.2 697.5L327.44 714L451.07 736.6L546.96 760.2L625.31 781.4L691.56 801.1L748.94 818.3L799.55 833.7L844.83 847.9" fill="none" stroke="#32cd32" stroke-width="2.8" stroke-linejoin="round" stroke-linecap="butt"/>
<circle cx="153.2" cy="697.5" r="10.55" fill="#32cd32"/>
<circle cx="327.44" cy="714" r="10.55" fill="#32cd32"/>
<circle cx="451.07" cy="736.6" r="10.55" fill="#32cd32"/>
<circle cx="546.96" cy="760.2" r="10.55" fill="#32cd32"/>
<circle cx="625.31" cy="781.4" r="10.55" fill="#32cd32"/>
<circle cx="691.56" cy="801.1" r="10.55" fill="#32cd32"/>
<circle cx="748.94" cy="818.3" r="10.55" fill="#32cd32"/>
<circle cx="799.55" cy="833.7" r="10.55" fill="#32cd32"/>
<circle cx="844.83" cy="847.9" r="10.55" fill="#32cd32"/>
</g>
<rect x="1002.6" y="451.2" width="744.95" height="438.55" fill="#fff"/>
<g clip-path="url(#cd)">
<path d="M1168.6 598.4L1182.2 612L1168.6 625.6L1155 612Z" fill="none" stroke="#000000" stroke-width="1.7" stroke-linejoin="miter"/>
<path d="M1203.6 559.1L1217.2 572.7L1203.6 586.3L1190 572.7Z" fill="none" stroke="#000000" stroke-width="1.7" stroke-linejoin="miter"/>
<path d="M1256.2 592.1L1269.8 605.7L1256.2 619.3L1242.6 605.7Z" fill="none" stroke="#000000" stroke-width="1.7" stroke-linejoin="miter"/>
<path d="M1298.5 626.1L1312.1 639.7L1298.5 653.3L1284.9 639.7Z" fill="none" stroke="#000000" stroke-width="1.7" stroke-linejoin="miter"/>
<path d="M1333.8 645.8L1347.4 659.4L1333.8 673L1320.2 659.4Z" fill="none" stroke="#000000" stroke-width="1.7" stroke-linejoin="miter"/>
<path d="M1390.4 695.1L1404 708.7L1390.4 722.3L1376.8 708.7Z" fill="none" stroke="#000000" stroke-width="1.7" stroke-linejoin="miter"/>
<path d="M1439.1 738.1L1452.7 751.7L1439.1 765.3L1425.5 751.7Z" fill="none" stroke="#000000" stroke-width="1.7" stroke-linejoin="miter"/>
<path d="M1480.5 767.2L1494.1 780.8L1480.5 794.4L1466.9 780.8Z" fill="none" stroke="#000000" stroke-width="1.7" stroke-linejoin="miter"/>
<path d="M1536.2 801L1549.8 814.6L1536.2 828.2L1522.6 814.6Z" fill="none" stroke="#000000" stroke-width="1.7" stroke-linejoin="miter"/>
<path d="M1572.6 813.8L1586.2 827.4L1572.6 841L1559 827.4Z" fill="none" stroke="#000000" stroke-width="1.7" stroke-linejoin="miter"/>
<path d="M1615.1 827.5L1628.7 841.1L1615.1 854.7L1601.5 841.1Z" fill="none" stroke="#000000" stroke-width="1.7" stroke-linejoin="miter"/>
<path d="M1664.6 833L1678.2 846.6L1664.6 860.2L1651 846.6Z" fill="none" stroke="#000000" stroke-width="1.7" stroke-linejoin="miter"/>
<path d="M1707.2 838.2L1720.8 851.8L1707.2 865.4L1693.6 851.8Z" fill="none" stroke="#000000" stroke-width="1.7" stroke-linejoin="miter"/>
<path d="M1746.9 842.6L1760.5 856.2L1746.9 869.8L1733.3 856.2Z" fill="none" stroke="#000000" stroke-width="1.7" stroke-linejoin="miter"/>
<path d="M1023.45 579.7L1025.54 586.13L1032.29 586.13L1026.83 590.1L1028.92 596.52L1023.45 592.55L1017.98 596.52L1020.07 590.1L1014.61 586.13L1021.36 586.13Z" fill="none" stroke="#000000" stroke-width="1.6" stroke-linejoin="round"/>
<path d="M1000.6 508.72L1003.72 508.76L1006.84 508.81L1009.96 508.86L1013.08 508.91L1016.2 508.96L1019.32 509.02L1022.44 509.07L1025.57 509.13L1028.69 509.2L1031.81 509.26L1034.93 509.32L1038.05 509.39L1041.17 509.46L1044.29 509.54L1047.41 509.61L1050.53 509.69L1053.65 509.78L1056.77 509.86L1059.89 509.95L1063.01 510.04L1066.13 510.13L1069.25 510.23L1072.37 510.33L1075.5 510.44L1078.62 510.55L1081.74 510.66L1084.86 510.78L1087.98 510.9L1091.1 511.03L1094.22 511.16L1097.34 511.29L1100.46 511.43L1103.58 511.58L1106.7 511.73L1109.82 511.89L1112.94 512.05L1116.06 512.21L1119.18 512.39L1122.3 512.57L1125.42 512.75L1128.55 512.95L1131.67 513.15L1134.79 513.35L1137.91 513.57L1141.03 513.79L1144.15 514.02L1147.27 514.26L1150.39 514.51L1153.51 514.76L1156.63 515.03L1159.75 515.3L1162.87 515.58L1165.99 515.88L1169.11 516.18L1172.23 516.5L1175.36 516.82L1178.48 517.16L1181.6 517.51L1184.72 517.87L1187.84 518.24L1190.96 518.63L1194.08 519.03L1197.2 519.44L1200.32 519.87L1203.44 520.31L1206.56 520.77L1209.68 521.24L1212.8 521.73L1215.92 522.23L1219.04 522.76L1222.16 523.3L1225.29 523.85L1228.41 524.43L1231.53 525.02L1234.65 525.64L1237.77 526.27L1240.89 526.93L1244.01 527.6L1247.13 528.3L1250.25 529.02L1253.37 529.77L1256.49 530.53L1259.61 531.32L1262.73 532.14L1265.85 532.98L1268.97 533.85L1272.09 534.74L1275.21 535.66L1278.34 536.61L1281.46 537.59L1284.58 538.59L1287.7 539.63L1290.82 540.7L1293.94 541.79L1297.06 542.92L1300.18 544.08L1303.3 545.27L1306.42 546.5L1309.54 547.76L1312.66 549.06L1315.78 550.38L1318.9 551.75L1322.02 553.15L1325.14 554.58L1328.27 556.06L1331.39 557.57L1334.51 559.11L1337.63 560.7L1340.75 562.32L1343.87 563.98L1346.99 565.68L1350.11 567.42L1353.23 569.2L1356.35 571.02L1359.47 572.87L1362.59 574.76L1365.71 576.7L1368.83 578.67L1371.95 580.68L1375.08 582.73L1378.2 584.81L1381.32 586.94L1384.44 589.1L1387.56 591.3L1390.68 593.53L1393.8 595.8L1396.92 598.1L1400.04 600.44L1403.16 602.81L1406.28 605.22L1409.4 607.65L1412.52 610.12L1415.64 612.61L1418.76 615.14L1421.88 617.68L1425.01 620.26L1428.13 622.86L1431.25 625.48L1434.37 628.12L1437.49 630.78L1440.61 633.46L1443.73 636.16L1446.85 638.87L1449.97 641.6L1453.09 644.33L1456.21 647.08L1459.33 649.83L1462.45 652.59L1465.57 655.35L1468.69 658.12L1471.81 660.88L1474.93 663.65L1478.06 666.41L1481.18 669.16L1484.3 671.91L1487.42 674.65L1490.54 677.38L1493.66 680.1L1496.78 682.8L1499.9 685.49L1503.02 688.16L1506.14 690.81L1509.26 693.44L1512.38 696.05L1515.5 698.64L1518.62 701.2L1521.74 703.74L1524.87 706.24L1527.99 708.72L1531.11 711.17L1534.23 713.59L1537.35 715.97L1540.47 718.33L1543.59 720.65L1546.71 722.93L1549.83 725.18L1552.95 727.4L1556.07 729.57L1559.19 731.72L1562.31 733.82L1565.43 735.88L1568.55 737.91L1571.67 739.9L1574.8 741.85L1577.92 743.76L1581.04 745.64L1584.16 747.47L1587.28 749.26L1590.4 751.02L1593.52 752.74L1596.64 754.42L1599.76 756.06L1602.88 757.66L1606 759.22L1609.12 760.75L1612.24 762.24L1615.36 763.69L1618.48 765.11L1621.6 766.49L1624.72 767.83L1627.85 769.14L1630.97 770.42L1634.09 771.66L1637.21 772.87L1640.33 774.04L1643.45 775.19L1646.57 776.3L1649.69 777.38L1652.81 778.43L1655.93 779.45L1659.05 780.44L1662.17 781.4L1665.29 782.33L1668.41 783.24L1671.53 784.12L1674.65 784.97L1677.78 785.8L1680.9 786.6L1684.02 787.38L1687.14 788.13L1690.26 788.86L1693.38 789.57L1696.5 790.26L1699.62 790.92L1702.74 791.56L1705.86 792.19L1708.98 792.79L1712.1 793.38L1715.22 793.94L1718.34 794.49L1721.46 795.02L1724.59 795.53L1727.71 796.03L1730.83 796.51L1733.95 796.97L1737.07 797.42L1740.19 797.85L1743.31 798.27L1746.43 798.68L1749.55 799.07" fill="none" stroke="#000000" stroke-width="3.0" stroke-linejoin="round" stroke-linecap="butt"/>
<circle cx="1023.8" cy="511.6" r="10.55" fill="#000000"/>
<circle cx="1160" cy="515" r="10.55" fill="#000000"/>
<circle cx="1296.3" cy="539.1" r="10.55" fill="#000000"/>
<circle cx="1433.2" cy="628.5" r="10.55" fill="#000000"/>
<circle cx="1569.6" cy="736.4" r="10.55" fill="#000000"/>
<circle cx="1706.3" cy="793.1" r="10.55" fill="#000000"/>
</g>
<path d="M153.2 889.65v5.7M451.07 889.65v5.7M625.31 889.65v5.7M748.94 889.65v5.7M844.83 889.65v5.7" stroke="#000" stroke-width="1.28" fill="none"/>
<path d="M107.92 889.65v3.2" stroke="#000" stroke-width="0.96" fill="none"/>
<path d="M108.4 881.6h-5.7M108.4 702.1h-5.7M108.4 522.6h-5.7" stroke="#000" stroke-width="1.28" fill="none"/>
<path d="M108.4 889.81h-3.2M108.4 827.57h-3.2M108.4 795.96h-3.2M108.4 773.53h-3.2M108.4 756.13h-3.2M108.4 741.92h-3.2M108.4 729.9h-3.2M108.4 719.5h-3.2M108.4 710.31h-3.2M108.4 648.07h-3.2M108.4 616.46h-3.2M108.4 594.03h-3.2M108.4 576.63h-3.2M108.4 562.42h-3.2M108.4 550.4h-3.2M108.4 540h-3.2M108.4 530.81h-3.2M108.4 468.57h-3.2" stroke="#000" stroke-width="0.96" fill="none"/>
<text x="125.84" y="923.80" font-size="32.5">100</text>
<text x="424.03" y="923.80" font-size="32.5">200</text>
<text x="598.60" y="923.80" font-size="32.5">300</text>
<text x="722.39" y="923.80" font-size="32.5">400</text>
<text x="817.96" y="923.80" font-size="32.5">500</text>
<text x="46.92" y="534.30" font-size="32.5">10</text><text x="84.04" y="521.10" font-size="22.75">4</text>
<text x="47.38" y="713.80" font-size="32.5">10</text><text x="84.27" y="700.60" font-size="22.75">3</text>
<text x="48.06" y="893.30" font-size="32.5">10</text><text x="84.50" y="880.10" font-size="22.75">2</text>
<g transform="rotate(-90)">
<text x="-831.35" y="31.40" font-size="32.8">hole mobility (cm</text>
<text x="-584.00" y="18.50" font-size="22.96">2</text>
<text x="-568.19" y="31.40" font-size="32.8">/Vs)</text>
</g>
<text x="366.67" y="973.50" font-size="32.7">temperature (K)</text>
<text x="58.86" y="478.60" font-size="44.7" font-weight="bold">c</text>
<path d="M1023.7 889.75v5.7M1160.28 889.75v5.7M1296.86 889.75v5.7M1433.44 889.75v5.7M1570.02 889.75v5.7M1706.6 889.75v5.7" stroke="#000" stroke-width="1.28" fill="none"/>
<path d="M1002.54 889.75v3.2M1010.46 889.75v3.2M1017.45 889.75v3.2M1064.81 889.75v3.2M1088.87 889.75v3.2M1105.93 889.75v3.2M1119.17 889.75v3.2M1129.98 889.75v3.2M1139.12 889.75v3.2M1147.04 889.75v3.2M1154.03 889.75v3.2M1201.39 889.75v3.2M1225.45 889.75v3.2M1242.51 889.75v3.2M1255.75 889.75v3.2M1266.56 889.75v3.2M1275.7 889.75v3.2M1283.62 889.75v3.2M1290.61 889.75v3.2M1337.97 889.75v3.2M1362.03 889.75v3.2M1379.09 889.75v3.2M1392.33 889.75v3.2M1403.14 889.75v3.2M1412.28 889.75v3.2M1420.2 889.75v3.2M1427.19 889.75v3.2M1474.55 889.75v3.2M1498.61 889.75v3.2M1515.67 889.75v3.2M1528.91 889.75v3.2M1539.72 889.75v3.2M1548.86 889.75v3.2M1556.78 889.75v3.2M1563.77 889.75v3.2M1611.13 889.75v3.2M1635.19 889.75v3.2M1652.25 889.75v3.2M1665.49 889.75v3.2M1676.3 889.75v3.2M1685.44 889.75v3.2M1693.36 889.75v3.2M1700.35 889.75v3.2M1747.71 889.75v3.2" stroke="#000" stroke-width="0.96" fill="none"/>
<path d="M1002.6 889.7h-5.7M1002.6 827.07h-5.7M1002.6 764.44h-5.7M1002.6 701.81h-5.7M1002.6 639.18h-5.7M1002.6 576.55h-5.7M1002.6 513.92h-5.7" stroke="#000" stroke-width="1.28" fill="none"/>
<text x="972.20" y="901.30" font-size="32.5">0</text>
<text x="936.05" y="838.67" font-size="32.5">100</text>
<text x="936.05" y="776.04" font-size="32.5">200</text>
<text x="936.05" y="713.41" font-size="32.5">300</text>
<text x="936.05" y="650.78" font-size="32.5">400</text>
<text x="936.05" y="588.15" font-size="32.5">500</text>
<text x="936.05" y="525.52" font-size="32.5">600</text>
<text x="994.13" y="935.20" font-size="32.5">10</text>
<text x="1029.81" y="913.10" font-size="22.75">14</text>
<text x="1130.70" y="935.20" font-size="32.5">10</text>
<text x="1166.39" y="913.10" font-size="22.75">15</text>
<text x="1267.29" y="935.20" font-size="32.5">10</text>
<text x="1302.97" y="913.10" font-size="22.75">16</text>
<text x="1403.87" y="935.20" font-size="32.5">10</text>
<text x="1439.55" y="913.10" font-size="22.75">17</text>
<text x="1540.44" y="935.20" font-size="32.5">10</text>
<text x="1576.13" y="913.10" font-size="22.75">18</text>
<text x="1677.03" y="935.20" font-size="32.5">10</text>
<text x="1712.71" y="913.10" font-size="22.75">19</text>
<g transform="rotate(-90)">
<text x="-831.35" y="921.60" font-size="32.8">hole mobility (cm</text>
<text x="-584.00" y="908.70" font-size="22.96">2</text>
<text x="-568.19" y="921.60" font-size="32.8">/Vs)</text>
</g>
<text x="1151.04" y="971.60" font-size="32.7">ionized impurity density (cm</text>
<text x="1554.52" y="959.30" font-size="22.9" style="font-family:'DejaVu Sans',sans-serif">−</text>
<text x="1574.78" y="959.30" font-size="22.9">3</text>
<text x="1590.29" y="971.60" font-size="32.7">)</text>
<text x="945.61" y="478.30" font-size="44.7" font-weight="bold">d</text>
<rect x="267.2" y="13.9" width="573.7" height="125.4" rx="4.2" ry="4.2" fill="#fff" fill-opacity="0.8" stroke="#cccccc" stroke-opacity="0.8" stroke-width="1.28"/>
<path d="M275.1 33.3H326.9" stroke="#000000" stroke-width="2.8"/>
<circle cx="301" cy="33.3" r="10.55" fill="#000000"/>
<path d="M275.1 73.9H326.9" stroke="#4b0082" stroke-width="2.8"/>
<circle cx="301" cy="73.9" r="10.55" fill="#4b0082"/>
<path d="M275.1 115.6H326.9" stroke="#32cd32" stroke-width="2.8"/>
<circle cx="301" cy="115.6" r="10.55" fill="#32cd32"/>
<text x="345.03" y="42.40" font-size="24.5">ph. only (exp. Canali 1975)</text>
<text x="345.03" y="82.90" font-size="24.5">ph.+ii N</text><text x="429.70" y="86.50" font-size="17.15" font-style="italic">D</text><text x="442.45" y="82.90" font-size="24.5">=1.75x10</text><text x="545.96" y="72.70" font-size="17.15">16</text><text x="574.44" y="82.90" font-size="24.5">cm</text><text x="607.04" y="72.70" font-size="17.15" style="font-family:'DejaVu Sans',sans-serif">−</text><text x="622.21" y="72.70" font-size="17.15">3</text><text x="639.36" y="82.90" font-size="24.5">(exp. Morin 1954)</text>
<text x="345.03" y="124.60" font-size="24.5">ph.+ii N</text><text x="429.70" y="128.20" font-size="17.15" font-style="italic">D</text><text x="442.45" y="124.60" font-size="24.5">=1.30x10</text><text x="545.96" y="114.40" font-size="17.15">17</text><text x="574.26" y="124.60" font-size="24.5">cm</text><text x="606.86" y="114.40" font-size="17.15" style="font-family:'DejaVu Sans',sans-serif">−</text><text x="622.04" y="114.40" font-size="17.15">3</text><text x="639.19" y="124.60" font-size="24.5">(exp. Morin 1954)</text>
<rect x="283.3" y="464" width="557.5" height="125.3" rx="4.2" ry="4.2" fill="#fff" fill-opacity="0.8" stroke="#cccccc" stroke-opacity="0.8" stroke-width="1.28"/>
<path d="M290 483.2H342.3" stroke="#000000" stroke-width="2.8"/>
<circle cx="316.15" cy="483.2" r="10.55" fill="#000000"/>
<path d="M290 523H342.3" stroke="#4b0082" stroke-width="2.8"/>
<circle cx="316.15" cy="523" r="10.55" fill="#4b0082"/>
<path d="M290 564.4H342.3" stroke="#32cd32" stroke-width="2.8"/>
<circle cx="316.15" cy="564.4" r="10.55" fill="#32cd32"/>
<text x="360.43" y="490.80" font-size="24.5">ph. only (exp. Ottaviany 1975)</text>
<text x="360.43" y="531.20" font-size="24.5">ph.+ii N</text><text x="444.77" y="534.80" font-size="17.15" font-style="italic">A</text><text x="457.22" y="531.20" font-size="24.5">=2.4x10</text><text x="547.11" y="521.00" font-size="17.15">16</text><text x="575.58" y="531.20" font-size="24.5">cm</text><text x="608.18" y="521.00" font-size="17.15" style="font-family:'DejaVu Sans',sans-serif">−</text><text x="623.36" y="521.00" font-size="17.15">3</text><text x="640.51" y="531.20" font-size="24.5">(exp. Morin 1954)</text>
<text x="360.43" y="573.10" font-size="24.5">ph.+ii N</text><text x="444.77" y="576.70" font-size="17.15" font-style="italic">A</text><text x="457.22" y="573.10" font-size="24.5">=2.0x10</text><text x="547.11" y="562.90" font-size="17.15">17</text><text x="575.41" y="573.10" font-size="24.5">cm</text><text x="608.01" y="562.90" font-size="17.15" style="font-family:'DejaVu Sans',sans-serif">−</text><text x="623.19" y="562.90" font-size="17.15">3</text><text x="640.33" y="573.10" font-size="24.5">(exp. Morin 1954)</text>
<rect x="1488" y="14.6" width="247.4" height="75.6" rx="4.2" ry="4.2" fill="#fff" fill-opacity="0.8" stroke="#cccccc" stroke-opacity="0.8" stroke-width="1.28"/>
<path d="M1522 19.5L1535.6 33.1L1522 46.7L1508.4 33.1Z" fill="none" stroke="#000000" stroke-width="1.7" stroke-linejoin="miter"/>
<circle cx="1522" cy="67.5" r="10.55" fill="#000000"/>
<text x="1566.96" y="41.90" font-size="24.5">Jacoboni 1977</text>
<text x="1565.98" y="76.20" font-size="24.5">Calculated</text>
<rect x="1444.6" y="463.6" width="290.4" height="110.6" rx="4.2" ry="4.2" fill="#fff" fill-opacity="0.8" stroke="#cccccc" stroke-opacity="0.8" stroke-width="1.28"/>
<path d="M1478.5 468.8L1492.1 482.4L1478.5 496L1464.9 482.4Z" fill="none" stroke="#000000" stroke-width="1.7" stroke-linejoin="miter"/>
<path d="M1478.35 507.5L1480.44 513.93L1487.19 513.93L1481.73 517.9L1483.82 524.32L1478.35 520.35L1472.88 524.32L1474.97 517.9L1469.51 513.93L1476.26 513.93Z" fill="none" stroke="#000000" stroke-width="1.6" stroke-linejoin="round"/>
<circle cx="1478.5" cy="551.5" r="10.55" fill="#000000"/>
<text x="1523.36" y="491.00" font-size="24.5">Jacoboni 1977</text>
<text x="1521.64" y="525.40" font-size="24.5">Konstantinos 1993</text>
<text x="1522.38" y="560.20" font-size="24.5">Calculated</text>
<rect x="108.4" y="2.3" width="744.85" height="438.05" fill="none" stroke="#000" stroke-width="1.28" stroke-linejoin="miter"/>
<rect x="1002.6" y="2.3" width="744.95" height="438" fill="none" stroke="#000" stroke-width="1.28" stroke-linejoin="miter"/>
<rect x="108.4" y="451.3" width="744.85" height="438.35" fill="none" stroke="#000" stroke-width="1.28" stroke-linejoin="miter"/>
<rect x="1002.6" y="451.2" width="744.95" height="438.55" fill="none" stroke="#000" stroke-width="1.28" stroke-linejoin="miter"/>
</svg></body></html>
